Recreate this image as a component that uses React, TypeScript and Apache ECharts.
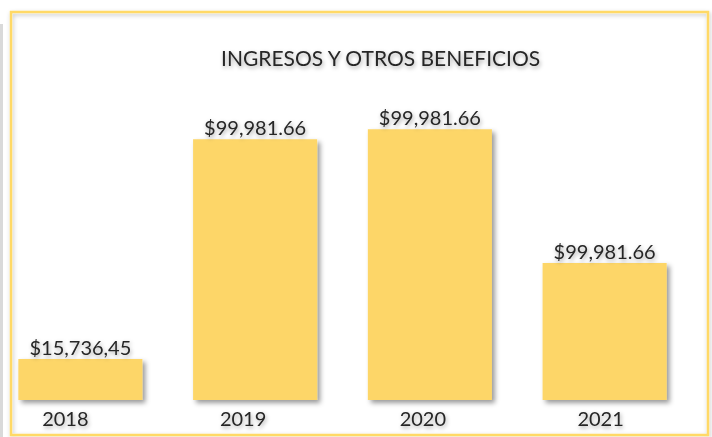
import React, { useEffect, useRef } from "react";
import * as echarts from "echarts";

const years = ["2018", "2019", "2020", "2021"];
const values = [15736.45, 99981.66, 103800, 52500];
const labels = ["$15,736,45", "$99,981.66", "$99,981.66", "$99,981.66"];
const title = "INGRESOS Y OTROS BENEFICIOS";

// horizontal nudge of each year label (px, negative = left)
const yearShift = [-15, -12, -7, -4];

const DX = 7; // chart div is shifted left by DX

export default function App() {
  const ref = useRef<HTMLDivElement>(null);
  useEffect(() => {
    const chart = echarts.init(ref.current!, null, { renderer: "svg" });
    const font = "Lato, 'Noto Sans', sans-serif";
    const shadowText = {
      textShadowColor: "rgba(0,0,0,0.35)",
      textShadowBlur: 4,
      textShadowOffsetX: 1,
      textShadowOffsetY: 2,
    };
    chart.setOption({
      animation: false,
      backgroundColor: "#ffffff",
      title: {
        text: title,
        left: 216 + DX,
        top: 42,
        textStyle: {
          fontFamily: font,
          fontSize: 21,
          fontWeight: "normal",
          color: "#262626",
          ...shadowText,
        },
      },
      graphic: [
        {
          type: "rect",
          shape: { x: 0 + DX, y: 24, width: 3, height: 413 },
          style: { fill: "#d9d9d9" },
          silent: true,
        },
        {
          type: "rect",
          shape: { x: 11 + DX, y: 12, width: 697, height: 423 },
          style: {
            fill: "none",
            stroke: "#FFD966",
            lineWidth: 2.5,
            shadowColor: "rgba(0,0,0,0.25)",
            shadowBlur: 4,
            shadowOffsetX: 1,
            shadowOffsetY: 2,
          },
          silent: true,
          z: 10,
        },
      ],
      grid: { left: 0, width: 699, top: 87, bottom: 37 },
      xAxis: {
        type: "category",
        data: years.map((y, i) => ({
          value: y,
          textStyle: {
            padding:
              yearShift[i] < 0
                ? [0, -2 * yearShift[i], 0, 0]
                : [0, 0, 0, 2 * yearShift[i]],
          },
        })),
        axisLine: { show: false },
        axisTick: { show: false },
        axisLabel: {
          margin: 8,
          fontFamily: font,
          fontSize: 20,
          color: "#262626",
          ...shadowText,
        },
      },
      yAxis: {
        type: "value",
        min: 0,
        max: 120000,
        show: false,
        splitLine: { show: false },
      },
      series: [
        {
          type: "bar",
          data: values,
          barCategoryGap: "29%",
          itemStyle: {
            color: "#FDD667",
            shadowColor: "rgba(0,0,0,0.4)",
            shadowBlur: 5,
            shadowOffsetX: 3,
            shadowOffsetY: 3,
          },
          label: {
            show: true,
            position: "top",
            distance: 2,
            fontFamily: font,
            fontSize: 20,
            color: "#262626",
            ...shadowText,
            formatter: (p: any) => labels[p.dataIndex],
          },
        },
      ],
    });
    return () => chart.dispose();
  }, []);
  return (
    <div
      ref={ref}
      style={{ position: "fixed", left: -DX, top: 0, width: 712 + DX, height: 437 }}
    />
  );
}
